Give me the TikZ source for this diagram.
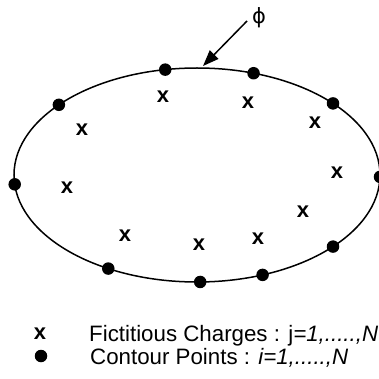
\documentclass[tikz,border=0pt]{standalone}
\usepackage{fontspec}
\setmainfont{Liberation Sans}
\newfontfamily\phifont{DejaVu Sans}
\usetikzlibrary{arrows.meta}
\begin{document}
\begin{tikzpicture}[x=1pt,y=-1pt,
  cpoint/.style={circle,fill=black,inner sep=0pt,minimum size=12.5pt},
  charge/.style={inner sep=0pt,font=\fontsize{22}{22}\selectfont\bfseries},
  legtext/.style={anchor=base west,inner sep=0pt,font=\fontsize{22.3}{22.3}\selectfont}]
\useasboundingbox (0,0) rectangle (378,379);
\coordinate (c) at (197,175);
\draw[line width=1.5pt] (c) ellipse [x radius=183, y radius=107];
% contour points
\foreach \n/\t in {p1/-100,p2/-72,p3/-139,p4/-42,p5/175,p6/1,p7/119,p8/89,p9/69,p10/42}
  \node[cpoint] (\n) at ([shift={(197,175)}]\t:183 and 107) {};
% fictitious charges
\foreach \n/\x/\y in {q1/163/97,q2/248/103,q3/82/130,q4/315/123,q5/67/188,q6/337/173,q7/125/236,q8/199/245,q9/258/239,q10/303/212}
  \node[charge] (\n) at (\x,\y) {x};
% arrow
\node[inner sep=0pt,font=\fontsize{21}{21}\selectfont\phifont] (phi) at (259,18) {ϕ};
\coordinate (as) at (247,21);
\coordinate (at) at (203,66);
\draw[line width=1.5pt,-{Triangle[length=16pt,width=12pt]}] (as) -- (at);
% legend
\node[charge] (lx) at (40,334) {x};
\node[cpoint] (ld) at (41,356) {};
\node[legtext] (l1) at (89,341) {Fictitious Charges : j\textit{=1,.....,N}};
\node[legtext] (l2) at (90,364) {Contour Points : \textit{i=1,.....,N}};
\end{tikzpicture}
\end{document}
